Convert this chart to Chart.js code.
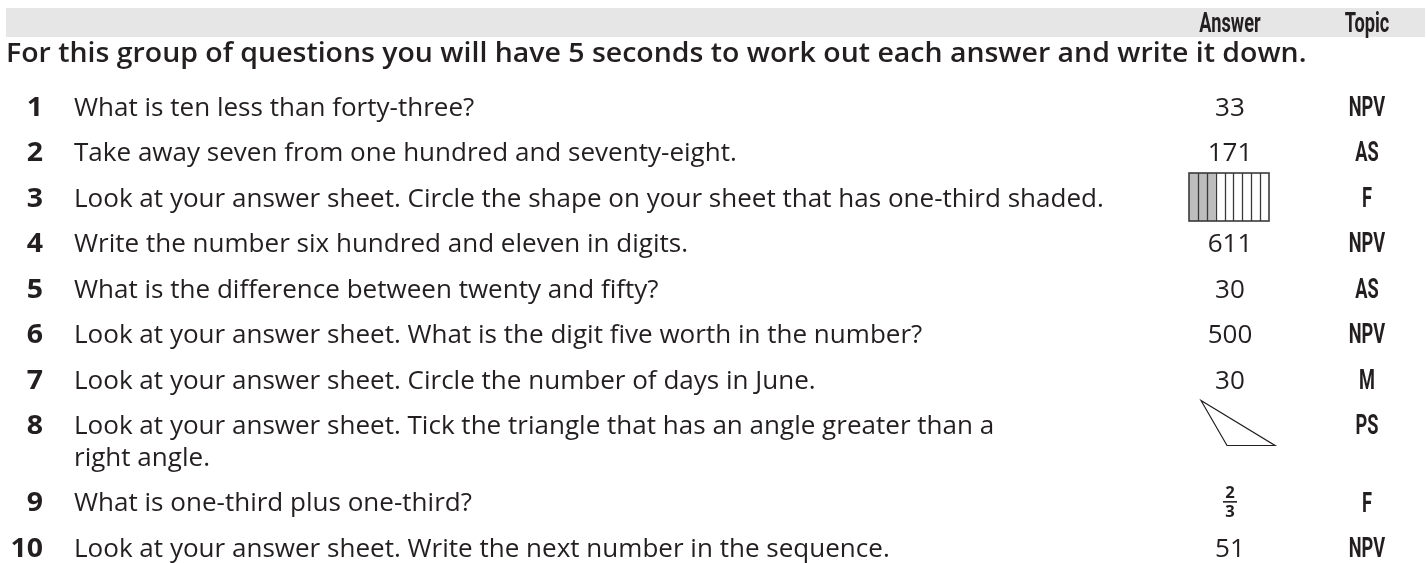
<!DOCTYPE html>
<html>
<head>
<meta charset="utf-8">
<script src="https://cdn.jsdelivr.net/npm/chart.js@4.4.1/dist/chart.umd.min.js"></script>
<style>
  html, body { margin: 0; padding: 0; background: #ffffff; overflow: hidden; }
  #wrap { position: relative; width: 1427px; height: 563px; }
</style>
</head>
<body>
<div id="wrap"><canvas id="c" width="1427" height="563"></canvas></div>
<script>
// ---------------- DATA ----------------
const title = 'For this group of questions you will have 5 seconds to work out each answer and write it down.';
const columnHeaders = ['Answer', 'Topic'];
const rowNumbers = ['1', '2', '3', '4', '5', '6', '7', '8', '9', '10'];
const questions = [
  'What is ten less than forty-three?',
  'Take away seven from one hundred and seventy-eight.',
  'Look at your answer sheet. Circle the shape on your sheet that has one-third shaded.',
  'Write the number six hundred and eleven in digits.',
  'What is the difference between twenty and fifty?',
  'Look at your answer sheet. What is the digit five worth in the number?',
  'Look at your answer sheet. Circle the number of days in June.',
  'Look at your answer sheet. Tick the triangle that has an angle greater than a\nright angle.',
  'What is one-third plus one-third?',
  'Look at your answer sheet. Write the next number in the sequence.'
];
const answers = ['33', '171', '[shaded bar]', '611', '30', '500', '30', '[obtuse triangle]', '2/3', '51'];
const topics = ['NPV', 'AS', 'F', 'NPV', 'AS', 'NPV', 'M', 'PS', 'F', 'NPV'];
const shadedBar = { cells: 9, shaded: 3 };

// ---------------- LAYOUT / STYLE ----------------
const LAYOUT = {
  xMin: 0, xMax: 1427,
  yMin: -2.33, yMax: 10.044,
  wrapLine: 0.7,
  numX: 43, qX: 74, ansX: 1230, topX: 1367, titleX: 6,
  headerY: -1.846, titleY: -1.176,
  bandTop: -2.154, bandBottom: -1.517, bandLeft: 6, bandRight: 1425
};
const INK = '#231f20';

// row positions in "line" units (a wrapped line adds a partial row)
const lineCounts = questions.map(q => q.split('\n').length);
const rowPos = [];
(function () {
  let acc = 0;
  lineCounts.forEach(n => { rowPos.push(acc); acc += 1 + (n - 1) * LAYOUT.wrapLine; });
})();

// ---------------- text helpers ----------------
const mctx = document.createElement('canvas').getContext('2d');
function makeStyle(family, weight, capH, ref) {
  mctx.font = `${weight} 100px "${family}"`;
  const a = mctx.measureText('H').actualBoundingBoxAscent || 71;
  const size = 100 * capH / a;
  const font = `${weight} ${size.toFixed(2)}px "${family}"`;
  mctx.font = font;
  let sx = 1;
  if (ref) {
    const m = mctx.measureText(ref.text);
    const w = (m.actualBoundingBoxLeft + m.actualBoundingBoxRight) || m.width;
    sx = ref.width / w;
  }
  return { font, capH, sx, color: INK };
}
let STY = null;
function buildStyles() {
  STY = {
    body: makeStyle('Open Sans', 400, 19, { text: questions[2], width: 1026 }),
    title: makeStyle('Open Sans', 600, 19, { text: title, width: 1297 }),
    cond: makeStyle('Roboto', 700, 19.5, { text: 'NPV', width: 36 }),
    frac: makeStyle('Open Sans', 700, 12, null)
  };
  STY.num = makeStyle('Open Sans', 700, 19, null);
  STY.num.sx = STY.title.sx;
}
function drawText(ctx, str, x, yc, st, align) {
  ctx.save();
  ctx.font = st.font;
  ctx.fillStyle = st.color;
  ctx.textAlign = align || 'left';
  ctx.textBaseline = 'alphabetic';
  ctx.translate(x, yc + st.capH / 2);
  ctx.scale(st.sx, 1);
  ctx.fillText(str, 0, 0);
  ctx.restore();
}

function drawShadedBar(ctx, cx, cy) {
  const w = 80, h = 48;
  const x0 = cx - w / 2 - 1, y0 = cy - h / 2;
  const cw = w / shadedBar.cells;
  ctx.save();
  ctx.fillStyle = '#bdbdbd';
  ctx.fillRect(x0, y0, cw * shadedBar.shaded, h);
  ctx.strokeStyle = '#3a3a3a';
  ctx.lineWidth = 1.3;
  for (let i = 1; i < shadedBar.cells; i++) {
    const x = Math.round(x0 + i * cw) + 0.5;
    ctx.beginPath(); ctx.moveTo(x, y0); ctx.lineTo(x, y0 + h); ctx.stroke();
  }
  ctx.lineWidth = 1.6;
  ctx.strokeRect(x0, y0, w, h);
  ctx.restore();
}
function drawObtuseTriangle(ctx, cx, cy) {
  ctx.save();
  ctx.strokeStyle = INK;
  ctx.lineWidth = 1.2;
  ctx.beginPath();
  ctx.moveTo(cx - 29, cy - 24);
  ctx.lineTo(cx - 3, cy + 21);
  ctx.lineTo(cx + 45, cy + 21);
  ctx.closePath();
  ctx.stroke();
  ctx.restore();
}
function drawFraction(ctx, str, cx, cy) {
  const [n, d] = str.split('/');
  drawText(ctx, n, cx, cy - 10, STY.frac, 'center');
  drawText(ctx, d, cx, cy + 9, STY.frac, 'center');
  ctx.save();
  ctx.strokeStyle = INK;
  ctx.lineWidth = 1.6;
  ctx.beginPath(); ctx.moveTo(cx - 7, cy); ctx.lineTo(cx + 7, cy); ctx.stroke();
  ctx.restore();
}

// ---------------- plugin: draws the table cells at the scale positions ----------------
const tablePlugin = {
  id: 'tableCells',
  beforeDatasetsDraw(chart) {
    const ctx = chart.ctx, xs = chart.scales.x, ys = chart.scales.y;
    // header band
    const top = ys.getPixelForValue(LAYOUT.bandTop), bot = ys.getPixelForValue(LAYOUT.bandBottom);
    const l = xs.getPixelForValue(LAYOUT.bandLeft), r = xs.getPixelForValue(LAYOUT.bandRight);
    ctx.save();
    ctx.fillStyle = '#e6e6e6';
    ctx.fillRect(l, top, r - l, bot - top);
    ctx.restore();
    const hy = ys.getPixelForValue(LAYOUT.headerY);
    drawText(ctx, columnHeaders[0], xs.getPixelForValue(LAYOUT.ansX), hy, STY.cond, 'center');
    drawText(ctx, columnHeaders[1], xs.getPixelForValue(LAYOUT.topX), hy, STY.cond, 'center');
    drawText(ctx, title, xs.getPixelForValue(LAYOUT.titleX), ys.getPixelForValue(LAYOUT.titleY), STY.title, 'left');
  },
  afterDatasetsDraw(chart) {
    const ctx = chart.ctx, ys = chart.scales.y;
    chart.data.datasets.forEach((ds, di) => {
      const meta = chart.getDatasetMeta(di);
      meta.data.forEach((pt, i) => {
        const x = pt.x, y = pt.y;
        if (ds.role === 'number') {
          drawText(ctx, rowNumbers[i], x, y, STY.num, 'right');
        } else if (ds.role === 'question') {
          questions[i].split('\n').forEach((line, k) => {
            const ly = ys.getPixelForValue(rowPos[i] + k * LAYOUT.wrapLine);
            drawText(ctx, line, x, ly, STY.body, 'left');
          });
        } else if (ds.role === 'answer') {
          const a = answers[i];
          if (a === '[shaded bar]') drawShadedBar(ctx, x, y);
          else if (a === '[obtuse triangle]') drawObtuseTriangle(ctx, x, y);
          else if (a.includes('/')) drawFraction(ctx, a, x, y);
          else drawText(ctx, a, x, y, STY.body, 'center');
        } else if (ds.role === 'topic') {
          drawText(ctx, topics[i], x, y, STY.cond, 'center');
        }
      });
    });
  }
};

function column(xVal) { return rowPos.map(y => ({ x: xVal, y })); }

function start() {
  buildStyles();
  new Chart(document.getElementById('c'), {
    type: 'scatter',
    data: {
      datasets: [
        { label: 'No.', role: 'number', data: column(LAYOUT.numX) },
        { label: 'Question', role: 'question', data: column(LAYOUT.qX) },
        { label: 'Answer', role: 'answer', data: column(LAYOUT.ansX) },
        { label: 'Topic', role: 'topic', data: column(LAYOUT.topX) }
      ].map(d => Object.assign(d, { pointRadius: 0, pointHoverRadius: 0, showLine: false }))
    },
    options: {
      responsive: false,
      devicePixelRatio: 1,
      animation: false,
      events: [],
      layout: { padding: 0 },
      plugins: { legend: { display: false }, tooltip: { enabled: false } },
      scales: {
        x: { type: 'linear', display: false, min: LAYOUT.xMin, max: LAYOUT.xMax },
        y: { type: 'linear', display: false, reverse: true, min: LAYOUT.yMin, max: LAYOUT.yMax }
      }
    },
    plugins: [tablePlugin]
  });
}
if (document.fonts && document.fonts.load) {
  Promise.all([
    document.fonts.load('400 26px "Open Sans"'),
    document.fonts.load('600 26px "Open Sans"'),
    document.fonts.load('700 26px "Open Sans"'),
    document.fonts.load('700 26px "Roboto"')
  ]).then(start, start);
} else start();
</script>
</body>
</html>
